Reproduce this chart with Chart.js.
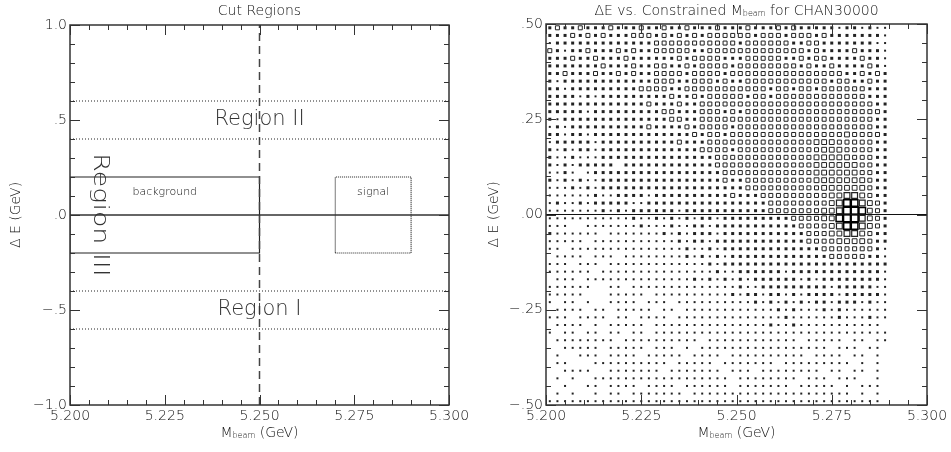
<!DOCTYPE html>
<html><head><meta charset="utf-8">
<script src="https://cdn.jsdelivr.net/npm/chart.js@4.4.0/dist/chart.umd.min.js"></script>
<style>
html,body{margin:0;padding:0;background:#fff;width:951px;height:452px;overflow:hidden}
#c1{position:absolute;left:0;top:0}
#c2{position:absolute;left:475px;top:0}
</style></head><body>
<canvas id="c1" width="475" height="452"></canvas>
<canvas id="c2" width="476" height="452"></canvas>
<script>
// ---------------- data ----------------
const massRange = [5.200, 5.300];
const massTicks = [5.200, 5.225, 5.250, 5.275, 5.300];
const massTickLabels = ["5.200", "5.225", "5.250", "5.275", "5.300"];

const cutRange = [-1.0, 1.0];
const cutYTicks = [-1.0, -0.5, 0.0, 0.5, 1.0];
const cutYTickLabels = ["\u22121.0", "\u2212.5", ".0", ".5", "1.0"];

const histRange = [-0.5, 0.5];
const histYTicks = [-0.5, -0.25, 0.0, 0.25, 0.5];
const histYTickLabels = ["\u2212.50", "\u2212.25", ".00", ".25", ".50"];

// cut regions (GeV)
const sidebandLevels = [0.6, 0.4, -0.4, -0.6];
const mbcDivider = 5.250;
const backgroundBoxM = [5.200, 5.250];
const backgroundBoxE = [-0.2, 0.2];
const signalBoxM = [5.270, 5.290];
const signalBoxE = [-0.2, 0.2];

// histogram bins (centers)
const mBinCenters = [5.201,5.203,5.205,5.207,5.209,5.211,5.213,5.215,5.217,5.219,
  5.221,5.223,5.225,5.227,5.229,5.231,5.233,5.235,5.237,5.239,
  5.241,5.243,5.245,5.247,5.249,5.251,5.253,5.255,5.257,5.259,
  5.261,5.263,5.265,5.267,5.269,5.271,5.273,5.275,5.277,5.279,
  5.281,5.283,5.285,5.287,5.289];
const eBinCenters = [0.49,0.47,0.45,0.43,0.41,0.39,0.37,0.35,0.33,0.31,
  0.29,0.27,0.25,0.23,0.21,0.19,0.17,0.15,0.13,0.11,
  0.09,0.07,0.05,0.03,0.01,-0.01,-0.03,-0.05,-0.07,-0.09,
  -0.11,-0.13,-0.15,-0.17,-0.19,-0.21,-0.23,-0.25,-0.27,-0.29,
  -0.31,-0.33,-0.35,-0.37,-0.39,-0.41,-0.43,-0.45,-0.47,-0.49];
// box size level per bin (0 = empty), rows top (dE=+0.49) to bottom (dE=-0.49)
const binLevels = [
"23223 22232 22322 32232 22322 23222 32322 22212 21211",
"22232 32322 23332 32323 23333 33233 32333 23222 22221",
"12222 22222 22223 33333 33333 23333 33223 32222 22211",
"32122 32223 23223 33332 23333 33333 33332 32222 32221",
"22232 23222 32222 22323 33322 23333 32232 33222 23221",
"22222 22322 23223 32232 33332 33333 33323 22322 22321",
"22322 23223 23223 33323 33323 33333 33333 33332 23232",
"21222 22222 22223 33223 33232 23333 33333 33233 22322",
"22122 22222 22333 32233 33333 33332 33233 23333 33222",
"22221 21222 22222 23223 23333 32332 33333 33333 33222",
"22222 22222 22232 22322 33333 33333 33333 33333 33322",
"22222 12222 22222 33222 33323 23333 33333 33333 33332",
"21222 22222 22222 23322 33333 33333 33333 33333 33322",
"12122 22222 22232 22232 33332 33333 33333 33333 33322",
"22122 12222 22222 22223 23323 33333 33333 33334 33332",
"12222 21222 22222 22322 23333 33333 33333 44433 33322",
"21212 21222 22222 22222 33332 33333 33333 34443 33322",
"21121 11222 22222 22222 22333 33333 33333 44444 33322",
"21212 22220 22222 22222 22333 33333 33333 44444 43322",
"11210 12222 22222 22222 22233 33333 33333 44444 43322",
"21212 11222 22222 22222 22232 23333 33333 44444 44322",
"11121 21222 22222 22222 22222 23333 33333 34444 44322",
"11111 12112 22212 22222 22223 22233 33333 33445 54322",
"12112 12222 21122 22222 22222 22223 33333 33456 65432",
"11111 11212 12222 22122 22222 22223 33333 34457 76432",
"11111 11111 12112 12121 22122 22222 22333 34467 75432",
"11100 11111 11211 12112 21222 22222 22233 33456 65432",
"21111 11011 11111 21212 22122 22222 22223 33445 54322",
"11111 01111 11111 11212 21222 22222 22223 33344 44322",
"11011 11111 11111 11121 12122 22222 22222 23333 33321",
"01111 01110 11111 11121 21212 22222 22222 22333 33221",
"11101 11011 11111 11111 12122 22222 22222 22222 22222",
"11111 10111 11111 11111 11211 22222 21222 22222 22221",
"01110 11111 11111 11112 12121 21222 22212 12222 22221",
"11111 10011 01111 11111 11111 21122 22222 22122 22211",
"11111 00011 11101 11111 11112 12212 21212 22212 22221",
"10110 10011 11011 10111 11111 11212 12121 22122 21211",
"01111 01101 11110 11011 11111 11111 21211 12121 11111",
"11101 11101 10111 10111 11111 11111 12111 11121 11211",
"01111 01011 11101 11111 11111 11112 11211 11111 11110",
"10110 11011 01101 11111 11111 11111 11111 11111 11111",
"01111 11110 11111 11111 01111 11111 11101 11110 11011",
"00111 11011 11101 11010 11111 11111 11111 11011 10110",
"01001 11011 11011 11101 11101 11111 11110 11110 11010",
"01100 01111 11111 10111 11011 11111 01111 11111 01010",
"00111 10011 11111 01111 11101 11011 11111 10110 11010",
"01010 01111 11111 11111 11110 11111 11101 11011 10010",
"00100 11011 11011 11011 11110 11111 11011 11101 01110",
"01010 01011 01111 11101 11111 11111 11111 11111 01010",
"11111 11111 11111 11111 11111 11111 11111 11111 11110"
];

// ---------------- styling / helpers ----------------
const FONT = "'DejaVu Sans', 'Liberation Sans', sans-serif";
const W = 300;
const INK = '#111';
const boxSide = [0, 2, 3, 4, 4.8, 5.8, 6.6, 7.2];
const boxLine = [0, 0, 0, 1, 1, 1.2, 1.5, 1.8];

function drawParts(ctx, parts, x, y, color) {
  let total = 0;
  parts.forEach(p => { ctx.font = `${W} ${p[1]}px ${FONT}`; total += ctx.measureText(p[0]).width; });
  let cx = x - total / 2;
  ctx.fillStyle = color || INK;
  ctx.textAlign = 'left';
  ctx.textBaseline = 'middle';
  parts.forEach(p => { ctx.font = `${W} ${p[1]}px ${FONT}`; ctx.fillText(p[0], cx, y + (p[2] || 0)); cx += ctx.measureText(p[0]).width; });
}

const panelDeco = {
  id: 'panelDeco',
  afterDatasetsDraw(chart) {
    const o = chart.options.plugins.panelDeco;
    const { ctx, chartArea: a, scales: { x, y } } = chart;
    ctx.save();
    (o.notes || []).forEach(n => {
      const px = x.getPixelForValue(n.x), py = y.getPixelForValue(n.y);
      ctx.save();
      ctx.translate(px, py);
      if (n.rot) ctx.rotate(n.rot);
      if (n.stretch) ctx.scale(n.stretch, 1);
      ctx.font = `${W} ${n.size}px ${FONT}`;
      ctx.fillStyle = n.color || INK;
      ctx.textAlign = 'center'; ctx.textBaseline = 'middle';
      ctx.fillText(n.text, 0, 0);
      ctx.restore();
    });
    ctx.strokeStyle = '#333'; ctx.lineWidth = 1;
    const line = (x1, y1, x2, y2) => { ctx.beginPath(); ctx.moveTo(x1, y1); ctx.lineTo(x2, y2); ctx.stroke(); };
    for (let i = 0; i <= o.xMinor; i++) {
      const v = x.min + i * (x.max - x.min) / o.xMinor;
      const px = Math.round(x.getPixelForValue(v)) + 0.5;
      const L = (i % o.majorEvery === 0) ? 10 : 5;
      line(px, a.bottom, px, a.bottom - L); line(px, a.top, px, a.top + L);
    }
    for (let i = 0; i <= o.yMinor; i++) {
      const v = y.min + i * (y.max - y.min) / o.yMinor;
      const py = Math.round(y.getPixelForValue(v)) + 0.5;
      const L = (i % o.majorEvery === 0) ? 10 : 5;
      line(a.left, py, a.left + L, py); line(a.right, py, a.right - L, py);
    }
    ctx.lineWidth = 1.5;
    ctx.strokeRect(a.left, a.top, a.right - a.left, a.bottom - a.top);
    ctx.restore();
  },
  afterDraw(chart) {
    const o = chart.options.plugins.panelDeco;
    const { ctx, chartArea: a } = chart;
    ctx.save();
    const cx = (a.left + a.right) / 2;
    drawParts(ctx, o.title, cx, 11);
    drawParts(ctx, o.xTitle, cx, 433);
    ctx.translate(o.yTitleX, (a.top + a.bottom) / 2);
    ctx.rotate(-Math.PI / 2);
    drawParts(ctx, o.yTitle, 0, 0);
    ctx.restore();
  }
};

function axes(yWidth, yTicks, yLabels, yRange) {
  return {
    x: {
      type: 'linear', position: 'bottom', min: massRange[0], max: massRange[1],
      afterFit(s) { s.height = 47; },
      afterBuildTicks(s) { s.ticks = massTicks.map(v => ({ value: v })); },
      ticks: { autoSkip: false, maxRotation: 0, padding: 3, color: INK,
        font: { family: FONT, size: 14, weight: W }, callback: (v, i) => massTickLabels[i] },
      grid: { display: false, drawTicks: false }, border: { display: false }
    },
    y: {
      type: 'linear', position: 'left', min: yRange[0], max: yRange[1],
      afterFit(s) { s.width = yWidth; },
      afterBuildTicks(s) { s.ticks = yTicks.map(v => ({ value: v })); },
      ticks: { autoSkip: false, padding: 3, color: INK,
        font: { family: FONT, size: 14, weight: W }, callback: (v, i) => yLabels[i] },
      grid: { display: false, drawTicks: false }, border: { display: false }
    }
  };
}

function seg(x1, y1, x2, y2) { return [{ x: x1, y: y1 }, { x: x2, y: y2 }]; }
function boxPath(m, e) {
  return [{ x: m[0], y: e[0] }, { x: m[1], y: e[0] }, { x: m[1], y: e[1] }, { x: m[0], y: e[1] }, { x: m[0], y: e[0] }];
}
const lineDs = (data, color, width, dash) => ({
  data, showLine: true, pointRadius: 0, borderColor: color, borderWidth: width,
  borderDash: dash || [], fill: false, tension: 0
});

// ---------------- left chart: cut regions ----------------
const leftDatasets = [];
sidebandLevels.forEach(v => leftDatasets.push(lineDs(seg(massRange[0], v, massRange[1], v), '#222', 1, [1, 2])));
leftDatasets.push(lineDs(seg(massRange[0], 0, massRange[1], 0), '#333', 1.4));
leftDatasets.push(lineDs(seg(mbcDivider, cutRange[0], mbcDivider, cutRange[1]), '#444', 1.5, [8, 5]));
leftDatasets.push(lineDs(boxPath(backgroundBoxM, backgroundBoxE), '#222', 1.2));
leftDatasets.push(lineDs(boxPath(signalBoxM, signalBoxE), '#222', 1.2, [1, 1]));

new Chart(document.getElementById('c1'), {
  type: 'scatter',
  data: { datasets: leftDatasets },
  options: {
    responsive: false, animation: false, events: [],
    layout: { padding: { left: 0, top: 25, right: 26, bottom: 0 } },
    scales: axes(70, cutYTicks, cutYTickLabels, cutRange),
    plugins: {
      legend: { display: false }, tooltip: { enabled: false },
      panelDeco: {
        title: [["Cut Regions", 14]],
        xTitle: [["M", 14], ["beam", 8, 3], [" (GeV)", 14]],
        yTitle: [["\u0394 E (GeV)", 14]], yTitleX: 16,
        xMinor: 20, yMinor: 20, majorEvery: 5,
        notes: [
          { text: "Region II", x: 5.250, y: 0.5, size: 21, color: '#333' },
          { text: "Region I", x: 5.250, y: -0.5, size: 21, color: '#333' },
          { text: "Region III", x: 5.2079, y: 0.0, size: 21, color: '#333', rot: Math.PI / 2, stretch: 1.28 },
          { text: "background", x: 5.225, y: 0.12, size: 11 },
          { text: "signal", x: 5.280, y: 0.12, size: 11 }
        ]
      }
    }
  },
  plugins: [panelDeco]
});

// ---------------- right chart: dE vs Mbc histogram ----------------
const histPoints = [];
binLevels.forEach((row, r) => {
  const s = row.replace(/ /g, '');
  for (let c = 0; c < mBinCenters.length; c++) {
    const lv = +s[c];
    if (lv > 0) histPoints.push({ x: mBinCenters[c], y: eBinCenters[r], v: lv });
  }
});

new Chart(document.getElementById('c2'), {
  type: 'scatter',
  data: {
    datasets: [
      lineDs(seg(massRange[0], 0, massRange[1], 0), '#111', 1.2),
      {
        data: histPoints, showLine: false, pointStyle: 'rect',
        pointRadius: c => boxSide[c.raw.v] / Math.SQRT2,
        pointHoverRadius: c => boxSide[c.raw.v] / Math.SQRT2,
        pointBackgroundColor: c => c.raw.v <= 2 ? '#222' : 'rgba(255,255,255,0)',
        pointBorderColor: c => c.raw.v >= 6 ? '#000' : '#222',
        pointBorderWidth: c => boxLine[c.raw.v]
      }
    ]
  },
  options: {
    responsive: false, animation: false, events: [],
    layout: { padding: { left: 0, top: 24, right: 24, bottom: 0 } },
    scales: axes(71, histYTicks, histYTickLabels, histRange),
    plugins: {
      legend: { display: false }, tooltip: { enabled: false },
      panelDeco: {
        title: [["\u0394E vs. Constrained M", 14], ["beam", 8, 3], [" for CHAN30000", 14]],
        xTitle: [["M", 14], ["beam", 8, 3], [" (GeV)", 14]],
        yTitle: [["\u0394 E (GeV)", 14]], yTitleX: 19,
        xMinor: 20, yMinor: 20, majorEvery: 5,
        notes: []
      }
    }
  },
  plugins: [panelDeco]
});
</script>
</body></html>
